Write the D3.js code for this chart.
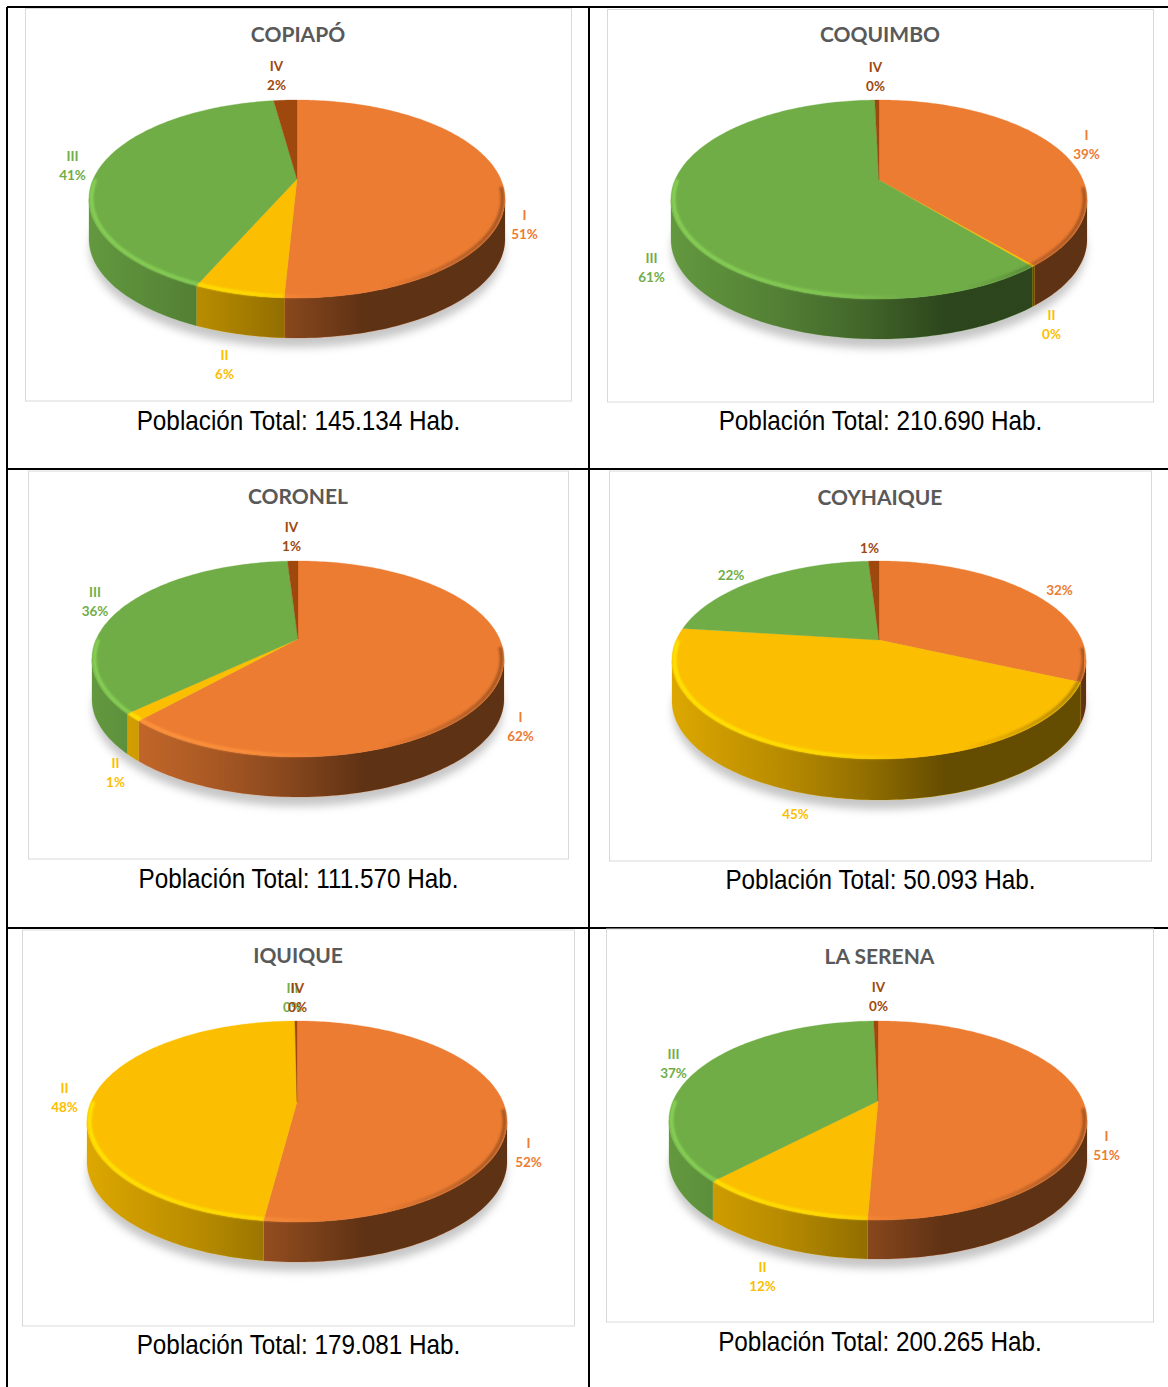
<!DOCTYPE html>
<html>
<head>
<meta charset="utf-8">
<script src="https://d3js.org/d3.v7.min.js"></script>
<style>
body{margin:0;background:#fff;}
svg{display:block;}
</style>
</head>
<body>
<svg id="chart" width="1168" height="1387"></svg>
<script>
// datos
var cities=["COPIAPÓ","COQUIMBO","CORONEL","COYHAIQUE","IQUIQUE","LA SERENA"];
var totals=["145.134","210.690","111.570","50.093","179.081","200.265"];
var groups=["I","II","III","IV"];
var colors=["#EC7C32","#FBBE00","#70AD47","#9E480E"];
var copiapo=[50.8,5.8,41.2,2.2];
var coquimbo=[38.8,0.2,60.6,0.4];
var coronel=[61.7,1.3,36,1];
var coyhaique=[31.7,45.3,22,1];
var iquique=[52.1,47.7,0,0.2];
var laSerena=[50.6,11.5,37.4,0.4];
var shares=[copiapo,coquimbo,coronel,coyhaique,iquique,laSerena];

// layout: marco [x0,y0,x1,y1]
var frames=[[25.5,8.5,571.5,401],[607.5,9.5,1153.5,402],[28.5,471,568.5,859],[609.5,471,1151.5,861],[22.5,930,574.5,1326],[606.5,929,1153.5,1322]];
// centro del pie [cx,cy,rx,atras,frente,alto]
var pies=[[297,179,208,79,119,40],[879,180,208,80,119,40],[298,639,206,78,118,40],[879,640,207,79,119,41],[297,1102,210,81,120,40],[878,1101,209,80,119,39]];
var titleY=[34,34,496.5,497.5,955,956];
var captionY=[430,430,888,889,1354,1351];
var showRoman=[true,true,true,false,true,true];
// posicion de etiquetas por grupo (I,II,III,IV), y = linea del %
var spots=[
  [[524.5,234],[224.5,374],[72.5,175],[276.5,85]],
  [[1086.5,154],[1051.5,334],[651.5,277],[875.5,86]],
  [[520.5,736],[115.5,782],[95,611],[291.5,546]],
  [[1059.5,590],[795.5,814],[731,575],[869.5,548]],
  [[528.5,1162],[64.5,1107],[292.5,1007],[297.5,1007]],
  [[1106.5,1155],[762.5,1286],[673.5,1073],[878.5,1006]]
];

var svg=d3.select("#chart");
var defs=svg.append("defs");
defs.append("filter").attr("id","soft").attr("x","-10%").attr("y","-10%").attr("width","120%").attr("height","120%")
  .append("feGaussianBlur").attr("stdDeviation",0.9);
defs.append("filter").attr("id","shadow").attr("x","-10%").attr("y","-20%").attr("width","120%").attr("height","140%")
  .append("feGaussianBlur").attr("stdDeviation",4);

// lineas de la tabla
var tableLines=[[7,7,1168,7],[7,7,7,1387],[589,7,589,1387],[7,469,1168,469],[7,928,1168,928]];
svg.selectAll("line.table").data(tableLines).enter().append("line")
  .attr("class","table")
  .attr("x1",function(d){return d[0];}).attr("y1",function(d){return d[1];})
  .attr("x2",function(d){return d[2];}).attr("y2",function(d){return d[3];})
  .attr("stroke","#000").attr("stroke-width",2);

// circulo en perspectiva
function projector(p){
  var k=(p[3]-p[4])/(p[3]+p[4]);
  var a=p[4]*(1+k);
  var b=p[2]*Math.sqrt(1-k*k);
  var f=function(t,r){
    var u=r*Math.sin(t),v=-r*Math.cos(t);
    var w=1+k*v;
    return [p[0]+b*u/w,p[1]+a*v/w];
  };
  f.k=k;
  return f;
}
function arcPoints(f,t0,t1,r,dy){
  var n=Math.max(2,Math.ceil((t1-t0)/0.02));
  return d3.range(n+1).map(function(i){
    var q=f(t0+(t1-t0)*i/n,r);
    return [q[0],q[1]+(dy||0)];
  });
}
var line=d3.line();

function shadeGradient(id,p){
  var g=defs.append("linearGradient").attr("id",id).attr("gradientUnits","userSpaceOnUse")
    .attr("x1",p[0]-p[2]).attr("x2",p[0]+p[2]).attr("y1",0).attr("y2",0);
  [[0,0.12],[0.27,0.27],[0.47,0.42],[0.66,0.6],[1,0.6]].forEach(function(s){
    g.append("stop").attr("offset",s[0]).attr("stop-color","#000").attr("stop-opacity",s[1]);
  });
}
function rimGradient(id,p,c){
  var g=defs.append("linearGradient").attr("id",id).attr("gradientUnits","userSpaceOnUse")
    .attr("x1",p[0]-p[2]).attr("x2",p[0]+p[2]).attr("y1",0).attr("y2",0);
  var hi=d3.color(c).brighter(0.55).formatHex();
  var lo=d3.color(c).darker(1.4).formatHex();
  [[0,hi,1],[0.4,hi,0.7],[0.56,hi,0],[0.7,lo,0],[0.9,lo,0.6],[1,lo,0.8]].forEach(function(s){
    g.append("stop").attr("offset",s[0]).attr("stop-color",s[1]).attr("stop-opacity",s[2]);
  });
}

var pie=d3.pie().sort(null).value(function(d){return d;});

cities.forEach(function(city,i){
  var p=pies[i],fr=frames[i],f=projector(p);
  var g=svg.append("g");
  var slices=pie(shares[i]);
  var tR=Math.acos(f.k),tL=2*Math.PI-tR;

  g.append("rect").attr("x",fr[0]).attr("y",fr[1]).attr("width",fr[2]-fr[0]).attr("height",fr[3]-fr[1])
    .attr("fill","#fff").attr("stroke","#d9d9d9").attr("stroke-width",1);

  g.append("text").attr("x",(fr[0]+fr[2])/2-0.5).attr("y",titleY[i]+7.5)
    .attr("text-anchor","middle").attr("font-family","Lato").attr("font-weight",700)
    .attr("font-size",21).attr("fill","#595959").text(city);

  // sombra
  g.append("path").attr("d",line(arcPoints(f,0,2*Math.PI,0.995,p[5]+10))+"Z")
    .attr("fill","#c6c6c6").attr("filter","url(#shadow)");

  // pared
  shadeGradient("shade"+i,p);
  slices.forEach(function(s,j){
    var t0=Math.max(s.startAngle,tR),t1=Math.min(s.endAngle,tL);
    if(t1<=t0) return;
    var top=arcPoints(f,t0,t1,1,0);
    var bot=arcPoints(f,t0,t1,1,p[5]).reverse();
    var d=line(top.concat(bot))+"Z";
    g.append("path").attr("d",d).attr("fill",colors[j]).attr("stroke",colors[j]).attr("stroke-width",0.3);
    g.append("path").attr("d",d).attr("fill","url(#shade"+i+")");
  });

  // cara superior
  slices.forEach(function(s,j){
    if(s.endAngle<=s.startAngle) return;
    var pts=[[p[0],p[1]]].concat(arcPoints(f,s.startAngle,s.endAngle,1,0));
    g.append("path").attr("d",line(pts)+"Z").attr("fill",colors[j]).attr("stroke",colors[j]).attr("stroke-width",0.3);
  });

  // borde biselado
  slices.forEach(function(s,j){
    var t0=Math.max(s.startAngle,tR-0.12),t1=Math.min(s.endAngle,tL+0.2);
    if(t1<=t0) return;
    rimGradient("rim"+i+"_"+j,p,colors[j]);
    g.append("path").attr("d",line(arcPoints(f,t0,t1,0.988,0)))
      .attr("fill","none").attr("stroke","url(#rim"+i+"_"+j+")").attr("stroke-width",3.5)
      .attr("filter","url(#soft)");
  });

  // etiquetas
  slices.forEach(function(s,j){
    var sp=spots[i][j];
    var lab=g.append("g").attr("font-family","Lato").attr("font-weight",700).attr("font-size",13.5)
      .attr("text-anchor","middle").attr("fill",colors[j]);
    if(showRoman[i]){
      lab.append("text").attr("x",sp[0]).attr("y",sp[1]-18.5+4.5).text(groups[j]);
    }
    lab.append("text").attr("x",sp[0]).attr("y",sp[1]+4.5).text(Math.round(s.value)+"%");
  });

  // poblacion
  var cx=(fr[0]+fr[2])/2;
  g.append("text").attr("transform","translate("+cx+","+captionY[i]+") scale(0.853,1)")
    .attr("text-anchor","middle").attr("font-family","Liberation Sans").attr("font-size",28.5)
    .attr("fill","#000").text("Población Total: "+totals[i]+" Hab.");
});
</script>
</body>
</html>
